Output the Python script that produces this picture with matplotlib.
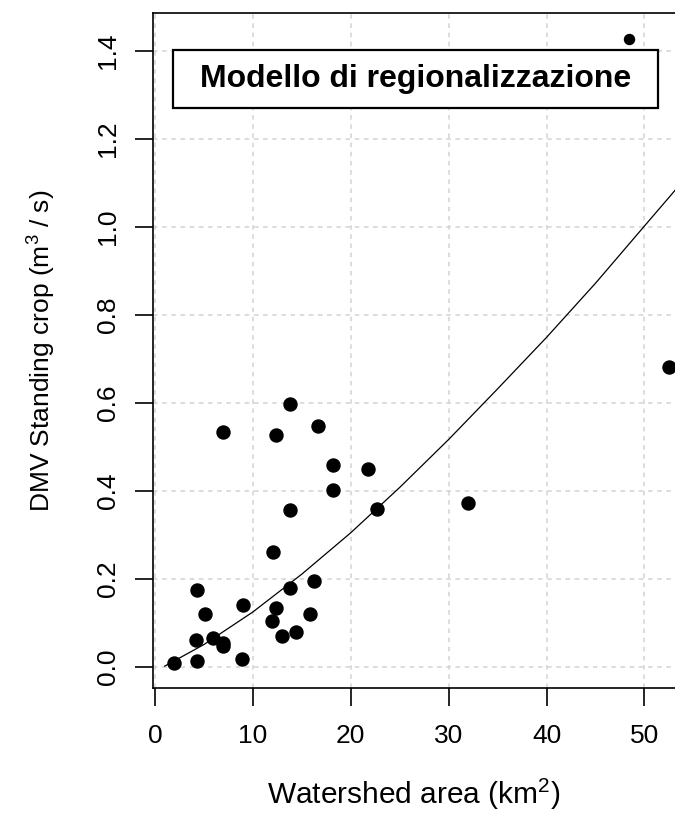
import matplotlib
matplotlib.use("Agg")
import matplotlib.pyplot as plt
from matplotlib.patches import Rectangle

plt.rcParams['font.family'] = ['Liberation Sans', 'DejaVu Sans']
plt.rcParams['mathtext.fontset'] = 'custom'
plt.rcParams['mathtext.rm'] = 'Liberation Sans'
plt.rcParams['mathtext.it'] = 'Liberation Sans'

# observed watersheds: area (km2) and DMV standing crop (m3/s)
area = [1.9, 4.2, 4.3, 4.3, 5.1, 5.9, 7.0, 7.0, 6.9, 8.9, 9.0,
        12.0, 12.1, 12.4, 12.4, 13.0, 13.8, 13.8, 13.8, 14.4, 15.8,
        16.2, 16.7, 18.2, 18.2, 21.8, 22.7, 32.0, 52.5]
dmv = [0.010, 0.062, 0.014, 0.176, 0.120, 0.067, 0.055, 0.047, 0.533, 0.018, 0.140,
       0.105, 0.261, 0.133, 0.528, 0.071, 0.180, 0.356, 0.598, 0.080, 0.120,
       0.196, 0.548, 0.402, 0.458, 0.450, 0.360, 0.373, 0.681]
# the largest basin, drawn a bit smaller in the original
big_area = [48.4]
big_dmv = [1.427]

# regionalisation model curve
curve_x = [1.0, 5.0, 10.0, 15.0, 20.0, 25.0, 30.0, 35.0, 40.0, 45.0, 50.0, 53.2]
curve_y = [0.002, 0.051, 0.125, 0.211, 0.305, 0.408, 0.517, 0.632, 0.749, 0.872, 1.002, 1.085]

xticks = [0, 10, 20, 30, 40, 50]
yticks = [0.0, 0.2, 0.4, 0.6, 0.8, 1.0, 1.2, 1.4]
ytick_labels = ["0.0", "0.2", "0.4", "0.6", "0.8", "1.0", "1.2", "1.4"]

fig = plt.figure(figsize=(6.75, 8.17), dpi=100)
ax = fig.add_axes([0.2271, 0.1579, 0.7729, 0.8262])

ax.set_xlim(-0.17, 53.12)
ax.set_ylim(-0.0477, 1.486)

# R-like dotted grid
for xv in xticks:
    ax.axvline(xv, color='#d3d3d3', lw=1.1, ls=(0, (3, 3)), zorder=0)
for yv in yticks:
    ax.axhline(yv, color='#d3d3d3', lw=1.1, ls=(0, (3, 3)), zorder=0)

ax.plot(curve_x, curve_y, color='black', lw=0.9, zorder=2)
ax.scatter(area, dmv, s=88, color='black', zorder=3, clip_on=True)
ax.scatter(big_area, big_dmv, s=52, color='black', zorder=3)

ax.set_xticks(xticks)
ax.set_xticklabels([str(v) for v in xticks])
ax.set_yticks(yticks)
ax.set_yticklabels(ytick_labels, rotation=90, va='center')
ax.tick_params(axis='both', direction='out', length=13, width=1.2, labelsize=19)
ax.tick_params(axis='x', pad=13)
ax.tick_params(axis='y', pad=11)

for side in ['left', 'bottom', 'top']:
    ax.spines[side].set_linewidth(1.2)
ax.spines['right'].set_visible(False)

ax.set_xlabel('Watershed area (km$^{2}$)', fontsize=21.5, labelpad=21)
ax.set_ylabel('DMV Standing crop (m$^{3}$ / s)', fontsize=19, labelpad=27)

# title box
ax.add_patch(Rectangle((0.0378, 0.8593), 0.9296, 0.0859, transform=ax.transAxes,
                       facecolor='white', edgecolor='black', lw=1.6, zorder=4))
ax.text(0.5026, 0.902, 'Modello di regionalizzazione', transform=ax.transAxes,
        ha='center', va='center', fontsize=23, fontweight='bold', zorder=5)

fig.savefig('out.png', dpi=100)
